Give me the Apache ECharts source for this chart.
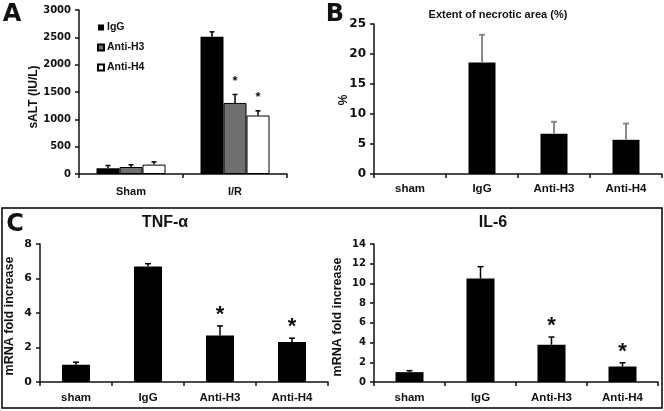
<!DOCTYPE html>
<html><head><meta charset="utf-8">
<script src="https://cdn.jsdelivr.net/npm/echarts@6/dist/echarts.min.js"></script>
<style>html,body{margin:0;padding:0;background:#fff}#c{width:664px;height:411px}</style>
</head><body><div id="c"></div>
<script>
// ---------- DATA ----------
const catsA = ['Sham', 'I/R'];
const namesA = ['IgG', 'Anti-H3', 'Anti-H4'];
const aIgG = [105, 2510];
const aIgGErr = [50, 90];
const aH3 = [128, 1300];
const aH3Err = [40, 155];
const aH4 = [172, 1070];
const aH4Err = [50, 85];
const aH3Sig = [0, 1];
const aH4Sig = [0, 1];
const aIgGSig = [0, 0];
const yTicksA = [0, 3000, 500];

const catsB = ['sham', 'IgG', 'Anti-H3', 'Anti-H4'];
const bVals = [0, 18.6, 6.7, 5.7];
const bErr = [0, 4.6, 2.0, 2.7];
const yTicksB = [0, 25, 5];

const catsC = ['sham', 'IgG', 'Anti-H3', 'Anti-H4'];
const tnfVals = [1.0, 6.7, 2.7, 2.32];
const tnfErr = [0.15, 0.16, 0.55, 0.22];
const tnfSig = [0, 0, 1, 1];
const yTicksTnf = [0, 8, 2];
const il6Vals = [1.0, 10.5, 3.78, 1.57];
const il6Err = [0.15, 1.2, 0.78, 0.38];
const il6Sig = [0, 0, 1, 1];
const yTicksIl6 = [0, 14, 2];

// ---------- STYLE HELPERS ----------
const FONT = 'Liberation Sans';
const TICKFONT = 'DejaVu Sans';
const INK = '#111';

function mkErr(vals, errs, sigs) {
  return vals.map((v, i) => [i, v, errs[i], sigs ? sigs[i] : 0]);
}
function errSeries(gridIdx, data, offset, color, lw, capW, starSize, starGap) {
  return {
    type: 'custom', xAxisIndex: gridIdx, yAxisIndex: gridIdx, z: 5,
    data: data, encode: {x: 0, y: 1}, silent: true,
    renderItem: function (params, api) {
      const i = api.value(0), v = api.value(1), e = api.value(2), s = api.value(3);
      const base = api.coord([i, v]);
      const top = api.coord([i, v + e]);
      const cx = base[0] + offset;
      const children = [];
      if (e > 0) {
        children.push({type: 'line', shape: {x1: cx, y1: base[1], x2: cx, y2: top[1]}, style: {stroke: color, lineWidth: lw}});
        children.push({type: 'line', shape: {x1: cx - capW / 2, y1: top[1], x2: cx + capW / 2, y2: top[1]}, style: {stroke: color, lineWidth: lw}});
      }
      if (s) {
        children.push({type: 'text', x: cx, y: top[1] - starGap, style: {text: '*', fontFamily: FONT, fontWeight: 'bold', fontSize: starSize, fill: INK, align: 'center', verticalAlign: 'middle'}});
      }
      return {type: 'group', children: children};
    }
  };
}
function yAx(gridIdx, t, fs, margin) {
  return {
    type: 'value', gridIndex: gridIdx, min: t[0], max: t[1], interval: t[2],
    axisLine: {show: true, lineStyle: {color: INK, width: 1.5}},
    axisTick: {show: true, length: 4, lineStyle: {color: INK, width: 1.5}},
    splitLine: {show: false},
    axisLabel: {fontFamily: TICKFONT, fontWeight: 'bold', fontSize: fs, color: INK, margin: margin,
      formatter: function (v) { return String(v); }}
  };
}
function xAx(gridIdx, cats, fs, margin) {
  return {
    type: 'category', gridIndex: gridIdx, data: cats,
    axisLine: {show: true, lineStyle: {color: INK, width: 1.5}},
    axisTick: {show: true, length: 4, alignWithLabel: false, lineStyle: {color: INK, width: 1.5}},
    axisLabel: {fontFamily: FONT, fontWeight: 'bold', fontSize: fs, color: INK, margin: margin}
  };
}
function txt(x, y, s, size, rot, fam) {
  return {type: 'text', x: x, y: y, rotation: rot || 0,
    style: {text: s, fontFamily: fam || FONT, fontWeight: 'bold', fontSize: size, fill: INK, align: 'center', verticalAlign: 'middle'}};
}

const barWA = 23;
const barW = 28;
const fillsA = ['#000000', '#707070', '#ffffff'];
const valsA = [aIgG, aH3, aH4];
const errsA = [aIgGErr, aH3Err, aH4Err];
const sigsA = [aIgGSig, aH3Sig, aH4Sig];

const series = [];
namesA.forEach((n, k) => {
  series.push({name: n, type: 'bar', xAxisIndex: 0, yAxisIndex: 0, data: valsA[k],
    barWidth: barWA, barGap: '0%',
    itemStyle: {color: fillsA[k], borderColor: '#000', borderWidth: k === 0 ? 0 : 1}});
});
namesA.forEach((n, k) => {
  series.push(errSeries(0, mkErr(valsA[k], errsA[k], sigsA[k]), (k - 1) * barWA, '#000', 1.5, 5, 13, 13));
});
series.push({type: 'bar', xAxisIndex: 1, yAxisIndex: 1, data: bVals, barWidth: 27, itemStyle: {color: '#000'}});
series.push(errSeries(1, mkErr(bVals, bErr, null), 0, '#8a8a8a', 2, 6, 13, 13));
series.push({type: 'bar', xAxisIndex: 2, yAxisIndex: 2, data: tnfVals, barWidth: barW, itemStyle: {color: '#000'}});
series.push(errSeries(2, mkErr(tnfVals, tnfErr, tnfSig), 0, '#000', 1.5, 6, 22, 11));
series.push({type: 'bar', xAxisIndex: 3, yAxisIndex: 3, data: il6Vals, barWidth: barW, itemStyle: {color: '#000'}});
series.push(errSeries(3, mkErr(il6Vals, il6Err, il6Sig), 0, '#000', 1.5, 6, 22, 11));

const chart = echarts.init(document.getElementById('c'), null, {renderer: 'canvas'});
chart.setOption({
  animation: false,
  backgroundColor: '#fff',
  grid: [
    {left: 79, top: 10, width: 208, height: 164},
    {left: 374, top: 24, width: 288, height: 150},
    {left: 40, top: 244, width: 288, height: 138},
    {left: 374, top: 244, width: 284, height: 138}
  ],
  xAxis: [xAx(0, catsA, 11, 12), xAx(1, catsB, 11.5, 9), xAx(2, catsC, 11.5, 10), xAx(3, catsC, 11.5, 10)],
  yAxis: [yAx(0, yTicksA, 10, 8), yAx(1, yTicksB, 12, 8), yAx(2, yTicksTnf, 11, 8), yAx(3, yTicksIl6, 10, 8)],
  legend: {
    data: namesA, orient: 'vertical', left: 92, top: 17, itemWidth: 6, itemHeight: 6, itemGap: 9,
    icon: 'rect', selectedMode: false,
    textStyle: {fontFamily: FONT, fontWeight: 'bold', fontSize: 10.5, color: INK, padding: [0, 0, 0, -2]}
  },
  graphic: [
    {type: 'rect', shape: {x: 2, y: 208, width: 660, height: 200}, style: {fill: 'none', stroke: '#000', lineWidth: 1.5}},
    txt(12, 15, 'A', 24, 0, 'DejaVu Sans'),
    txt(335, 15, 'B', 24, 0, 'DejaVu Sans'),
    txt(15, 225, 'C', 24, 0, 'DejaVu Sans'),
    txt(498, 15, 'Extent of necrotic area (%)', 11),
    txt(165, 223, 'TNF-α', 16),
    txt(493, 223, 'IL-6', 16),
    txt(34, 97, 'sALT (IU/L)', 12, Math.PI / 2),
    txt(344, 100, '%', 12, Math.PI / 2),
    txt(10, 316, 'mRNA fold increase', 12.5, Math.PI / 2),
    txt(338, 317, 'mRNA fold increase', 12.5, Math.PI / 2)
  ],
  series: series
});
</script></body></html>
